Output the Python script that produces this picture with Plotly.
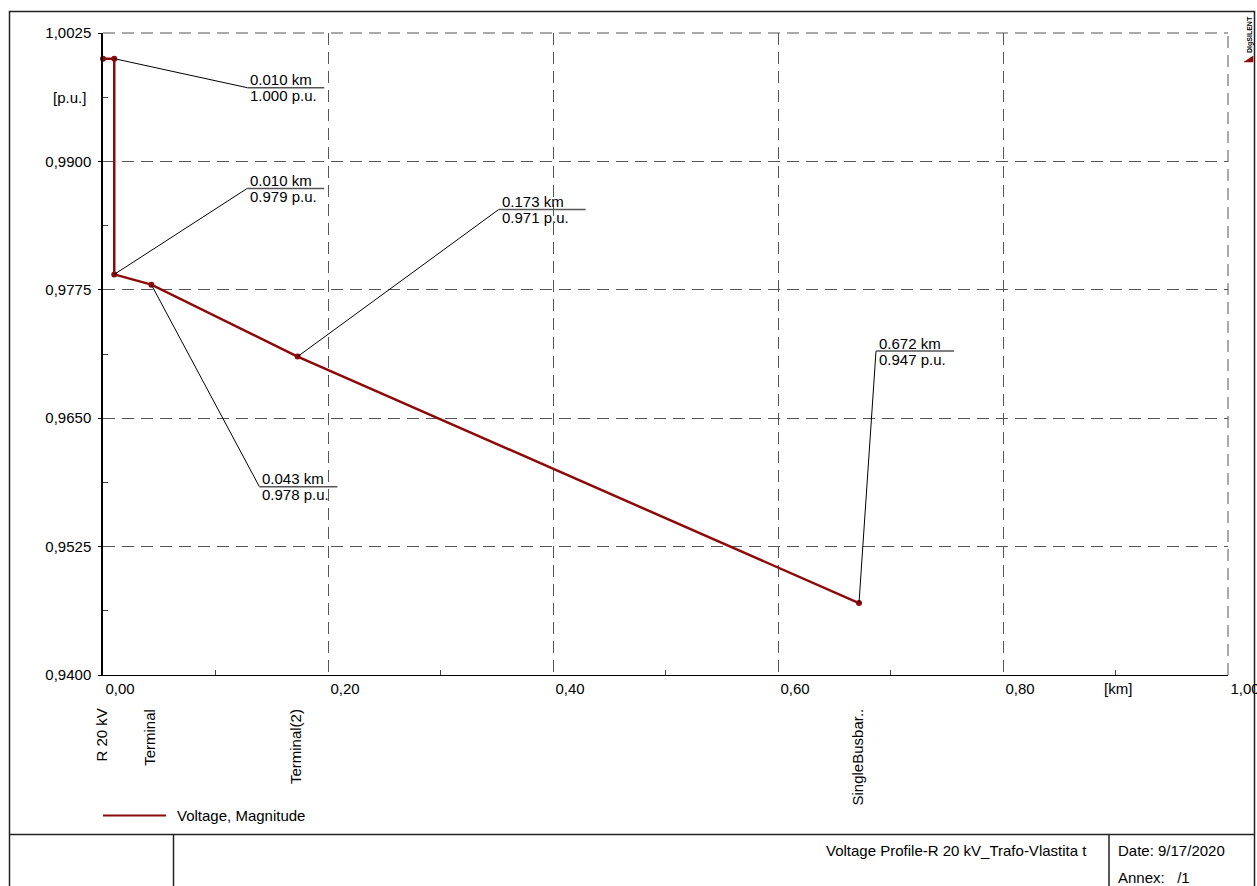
import plotly.graph_objects as go

# ---- data ----
distance_km = [0.000, 0.010, 0.010, 0.043, 0.173, 0.672]
voltage_pu = [1.000, 1.000, 0.979, 0.978, 0.971, 0.947]

callout_x = [0.010, 0.010, 0.043, 0.173, 0.672]
callout_y = [1.000, 0.979, 0.978, 0.971, 0.947]
callout_km = ["0.010 km", "0.010 km", "0.043 km", "0.173 km", "0.672 km"]
callout_pu = ["1.000 p.u.", "0.979 p.u.", "0.978 p.u.", "0.971 p.u.", "0.947 p.u."]
# leader offsets in pixels (dx right, dy down) and underline length
callout_dx = [133, 133, 108, 201, 17]
callout_dy = [29, -86, 202, -147, -252]
callout_len = [77, 77, 78, 87, 78]

node_names = ["R 20 kV", "Terminal", "Terminal(2)", "SingleBusbar.."]
node_x = [0.000, 0.043, 0.173, 0.672]

FONT = "Liberation Sans, Arial, sans-serif"
FS = 15
RED = "#8c0a0a"
GRID = "#555555"

W, H = 1257, 886
L, T, R_, B = 103, 33, 1228, 675
PW, PH = R_ - L, B - T


def pxx(px):
    return (px - L) / PW


def pxy(py):
    return (B - py) / PH


fig = go.Figure()
fig.add_trace(go.Scatter(
    x=distance_km, y=voltage_pu, mode="lines+markers",
    line=dict(color=RED, width=2.5),
    marker=dict(color=RED, size=6),
    cliponaxis=False, showlegend=False, hoverinfo="skip",
))

shapes = []
annotations = []

# top and right dashed border gridlines
shapes.append(dict(type="line", xref="paper", yref="paper", x0=0, x1=1, y0=1, y1=1,
                   line=dict(color=GRID, width=1, dash="12px,7px")))
shapes.append(dict(type="line", xref="paper", yref="paper", x0=1, x1=1, y0=0, y1=1,
                   line=dict(color=GRID, width=1, dash="12px,7px")))

for cx, cy, km, pu, dx, dy, ln in zip(callout_x, callout_y, callout_km, callout_pu,
                                       callout_dx, callout_dy, callout_len):
    shapes.append(dict(type="line", xref="x", yref="y", xsizemode="pixel", ysizemode="pixel",
                       xanchor=cx, yanchor=cy, x0=0, y0=0, x1=dx, y1=-dy,
                       line=dict(color="black", width=1)))
    shapes.append(dict(type="line", xref="x", yref="y", xsizemode="pixel", ysizemode="pixel",
                       xanchor=cx, yanchor=cy, x0=dx, y0=-dy, x1=dx + ln, y1=-dy,
                       line=dict(color=GRID, width=1.5)))
    annotations.append(dict(x=cx, y=cy, xref="x", yref="y", text=km, showarrow=False,
                            xanchor="left", yanchor="middle", xshift=dx + 1, yshift=-dy + 8,
                            font=dict(family=FONT, size=FS, color="black")))
    annotations.append(dict(x=cx, y=cy, xref="x", yref="y", text=pu, showarrow=False,
                            xanchor="left", yanchor="middle", xshift=dx + 1, yshift=-dy - 8,
                            font=dict(family=FONT, size=FS, color="black")))

for nm, nx in zip(node_names, node_x):
    annotations.append(dict(x=nx, y=pxy(707), xref="x", yref="paper", text=nm, showarrow=False,
                            textangle=-90, xanchor="center", yanchor="top", xshift=-2,
                            font=dict(family=FONT, size=FS, color="black")))

annotations.append(dict(x=pxx(88), y=pxy(98), xref="paper", yref="paper", text="[p.u.]",
                        showarrow=False, xanchor="right", yanchor="middle",
                        font=dict(family=FONT, size=FS, color="black")))
annotations.append(dict(x=pxx(1118), y=pxy(689), xref="paper", yref="paper", text="[km]",
                        showarrow=False, xanchor="center", yanchor="middle",
                        font=dict(family=FONT, size=FS, color="black")))

# legend
shapes.append(dict(type="line", xref="paper", yref="paper", x0=pxx(103), x1=pxx(166),
                   y0=pxy(815.5), y1=pxy(815.5), line=dict(color=RED, width=2)))
annotations.append(dict(x=pxx(175), y=pxy(815.5), xref="paper", yref="paper",
                        text="Voltage, Magnitude", showarrow=False, xanchor="left",
                        yanchor="middle", font=dict(family=FONT, size=FS, color="black")))

# outer frame and footer
frame = dict(color="#222222", width=1.5)
shapes.append(dict(type="rect", xref="paper", yref="paper", x0=pxx(9.5), x1=pxx(1254.5),
                   y0=pxy(900), y1=pxy(11.5), line=frame, layer="below"))
shapes.append(dict(type="line", xref="paper", yref="paper", x0=pxx(9.5), x1=pxx(1254.5),
                   y0=pxy(834.5), y1=pxy(834.5), line=frame))
shapes.append(dict(type="line", xref="paper", yref="paper", x0=pxx(173.5), x1=pxx(173.5),
                   y0=pxy(900), y1=pxy(834.5), line=frame))
shapes.append(dict(type="line", xref="paper", yref="paper", x0=pxx(1109), x1=pxx(1109),
                   y0=pxy(900), y1=pxy(834.5), line=frame))
annotations.append(dict(x=pxx(1089), y=pxy(850), xref="paper", yref="paper",
                        text="Voltage Profile-R 20 kV_Trafo-Vlastita t", showarrow=False,
                        xanchor="right", yanchor="middle",
                        font=dict(family=FONT, size=FS, color="black")))
annotations.append(dict(x=pxx(1116), y=pxy(850), xref="paper", yref="paper",
                        text="Date: 9/17/2020", showarrow=False,
                        xanchor="left", yanchor="middle",
                        font=dict(family=FONT, size=FS, color="black")))
annotations.append(dict(x=pxx(1116), y=pxy(877), xref="paper", yref="paper",
                        text="Annex:   /1", showarrow=False,
                        xanchor="left", yanchor="middle",
                        font=dict(family=FONT, size=FS, color="black")))

# DIgSILENT mark
annotations.append(dict(x=pxx(1250), y=pxy(35), xref="paper", yref="paper",
                        text="<b>DIgSILENT</b>", showarrow=False, textangle=-90,
                        xanchor="center", yanchor="middle",
                        font=dict(family=FONT, size=7, color="black")))
shapes.append(dict(type="path", xref="paper", yref="paper",
                   path=f"M {pxx(1244)} {pxy(62)} L {pxx(1253)} {pxy(62)} L {pxx(1253)} {pxy(56)} Z",
                   fillcolor=RED, line=dict(color=RED, width=0.5)))

fig.update_layout(
    width=W, height=H, autosize=False,
    margin=dict(l=L, r=W - R_, t=T, b=H - B, autoexpand=False),
    paper_bgcolor="white", plot_bgcolor="white",
    separators=", ",
    font=dict(family=FONT, size=FS, color="black"),
    shapes=shapes, annotations=annotations,
    xaxis=dict(range=[0, 1.0], tick0=0, dtick=0.2, tickformat=".2f", automargin=False,
               showgrid=True, gridcolor=GRID, gridwidth=1, griddash="12px,7px",
               zeroline=False, showline=True, linecolor="black", linewidth=1,
               ticks="", ticklabelshift=17, ticklabeloverflow="allow",
               minor=dict(ticks="inside", ticklen=5, tickcolor="#444", dtick=0.1, tick0=0,
                          showgrid=False),
               tickfont=dict(family=FONT, size=FS, color="black")),
    yaxis=dict(range=[0.94, 1.0025], tick0=0.94, dtick=0.0125, tickformat=".4f",
               automargin=False,
               showgrid=True, gridcolor=GRID, gridwidth=1, griddash="12px,7px",
               zeroline=False, showline=True, linecolor="black", linewidth=1.5,
               ticks="outside", ticklen=3, tickcolor="black", ticklabelstandoff=4,
               minor=dict(ticks="inside", ticklen=5, tickcolor="#444", dtick=0.0125,
                          tick0=0.94 + 0.00625, showgrid=False),
               tickfont=dict(family=FONT, size=FS, color="black")),
)

fig.write_html("out.html", config={"displayModeBar": False, "responsive": False},
               post_script="document.body.style.margin='0px';"
                           "document.documentElement.style.overflow='hidden';")
